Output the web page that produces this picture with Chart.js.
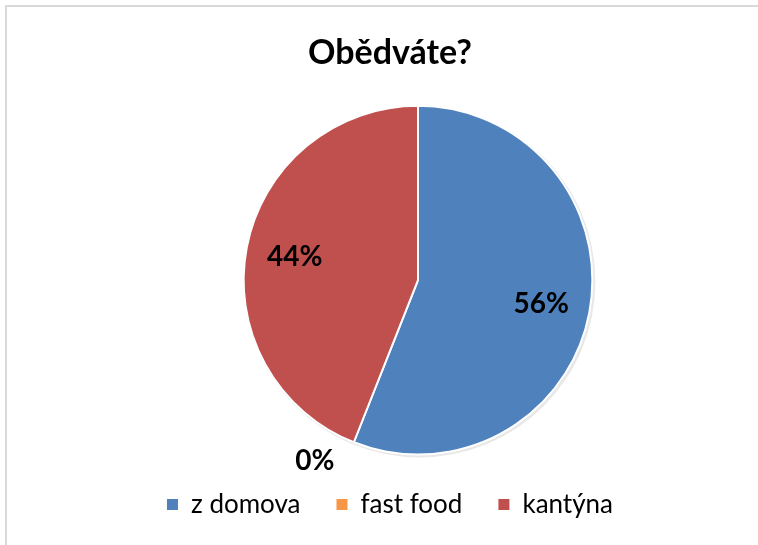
<!DOCTYPE html>
<html lang="cs">
<head>
<meta charset="utf-8">
<title>Obědváte?</title>
<script src="https://cdn.jsdelivr.net/npm/chart.js@4"></script>
<style>
    html, body { margin: 0; padding: 0; background: #fff; }
    #wrap { position: relative; width: 758px; height: 545px; overflow: hidden; }
    #frame { position: absolute; left: 5px; top: 5px; width: 820px; height: 620px; border: 2px solid #d9d9d9; box-sizing: border-box; }
    #chart { position: absolute; left: 0; top: 0; }
</style>
</head>
<body>
<div id="wrap">
    <div id="frame"></div>
    <canvas id="chart" width="758" height="545"></canvas>
</div>
<script>
// Data
const categories = ['z domova', 'fast food', 'kantýna'];
const shares = [56, 0, 44];

// Office palette
const SLICE_COLORS = ['#4f81bd', '#f79646', '#c0504d'];
const FONT = 'Lato, Carlito, Calibri, sans-serif';

// pie sits right of the title/legend centre line
const pieShift = {
    id: 'pieShift',
    afterLayout(chart) {
        chart.chartArea.left += 28;
        chart.chartArea.right += 28;
    }
};

// soft grey halo under the pie
const pieShadow = {
    id: 'pieShadow',
    beforeDatasetsDraw(chart) {
        const arc = chart.getDatasetMeta(0).data[0];
        if (!arc) return;
        const { x, y, outerRadius } = arc.getProps(['x', 'y', 'outerRadius'], true);
        const ctx = chart.ctx;
        ctx.save();
        ctx.fillStyle = '#e8e8e8';
        ctx.beginPath();
        ctx.arc(x + 1.5, y + 1.5, outerRadius + 1.5, 0, Math.PI * 2);
        ctx.fill();
        ctx.restore();
    }
};

// percentage labels, zero slices go outside
const sliceLabels = {
    id: 'sliceLabels',
    afterDatasetsDraw(chart) {
        const ctx = chart.ctx;
        const meta = chart.getDatasetMeta(0);
        const total = shares.reduce((a, b) => a + b, 0);
        ctx.save();
        ctx.font = 'bold 28px ' + FONT;
        ctx.fillStyle = '#000';
        ctx.textBaseline = 'middle';
        meta.data.forEach((arc, i) => {
            const { x, y, startAngle, endAngle, outerRadius } =
                arc.getProps(['x', 'y', 'startAngle', 'endAngle', 'outerRadius'], true);
            const mid = (startAngle + endAngle) / 2;
            const text = Math.round(shares[i] / total * 100) + '%';
            if (shares[i] > 0) {
                const r = outerRadius * 0.72;
                ctx.textAlign = 'center';
                ctx.fillText(text, x + Math.cos(mid) * r, y + Math.sin(mid) * r);
            } else {
                const r = outerRadius + 20;
                const onLeft = Math.cos(mid) < 0;
                ctx.textAlign = onLeft ? 'right' : 'left';
                ctx.fillText(text, x + Math.cos(mid) * r + (onLeft ? -12 : 12), y + Math.sin(mid) * r);
            }
        });
        ctx.restore();
    }
};

function drawChart() {
    new Chart(document.getElementById('chart'), {
        type: 'pie',
        data: {
            labels: categories,
            datasets: [{
                data: shares,
                backgroundColor: SLICE_COLORS,
                borderColor: '#fff',
                borderWidth: 2
            }]
        },
        options: {
            responsive: false,
            animation: false,
            layout: { padding: { left: 22, right: 0, top: 0, bottom: 17.5 } },
            plugins: {
                title: {
                    display: true,
                    text: 'Obědváte?',
                    color: '#000',
                    font: { family: FONT, size: 34, weight: 'bold' },
                    padding: { top: 33, bottom: 31 }
                },
                legend: {
                    position: 'bottom',
                    labels: {
                        boxWidth: 11,
                        boxHeight: 11,
                        padding: 36,
                        color: '#000',
                        font: { family: FONT, size: 26 },
                        generateLabels(chart) {
                            const items = Chart.overrides.pie.plugins.legend.labels.generateLabels(chart);
                            items.forEach(it => { it.lineWidth = 0; it.strokeStyle = it.fillStyle; });
                            return items;
                        }
                    }
                },
                tooltip: { enabled: false }
            }
        },
        plugins: [pieShift, pieShadow, sliceLabels]
    });
}

document.fonts.load('bold 28px Lato').then(drawChart, drawChart);
</script>
</body>
</html>
